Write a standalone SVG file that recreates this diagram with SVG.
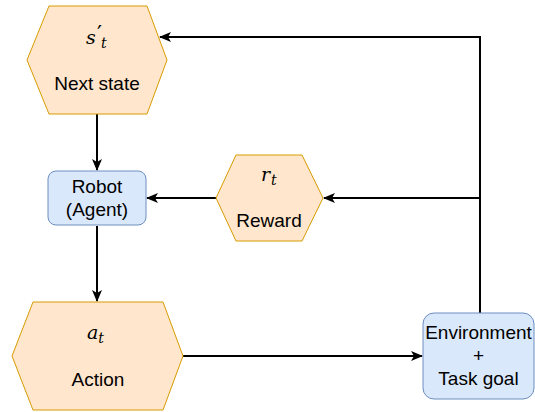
<svg xmlns="http://www.w3.org/2000/svg" width="535" height="412" viewBox="0 0 535 412">
  <defs>
    <style>
      .hex { fill: #ffe6cc; stroke: #d79b00; stroke-width: 1; }
      .box { fill: #dae8fc; stroke: #6c8ebf; stroke-width: 1; }
      .lbl { font-family: "Liberation Sans", Arial, sans-serif; font-size: 19px; fill: #000; text-anchor: middle; }
      .math { font-family: "DejaVu Serif", "Liberation Serif", serif; font-style: italic; font-size: 19px; fill: #000; }
      .sub { font-size: 14px; }
      .edge { fill: none; stroke: #000; stroke-width: 2; }
    </style>
    <marker id="arrow" viewBox="0 0 12 10" refX="11" refY="5" markerWidth="12" markerHeight="10" markerUnits="userSpaceOnUse" orient="auto">
      <path d="M0,0 L12,5 L0,10 L3,5 Z" fill="#000"/>
    </marker>
  </defs>

  <rect width="535" height="412" fill="#fff"/>

  <!-- connectors -->
  <g id="connectors">
    <path class="edge" d="M480,313 L480,37 L160,37" marker-end="url(#arrow)"/>
    <path class="edge" d="M480,198 L324,198" marker-end="url(#arrow)"/>
    <path class="edge" d="M216,198 L147,198" marker-end="url(#arrow)"/>
    <path class="edge" d="M97,114 L97,170" marker-end="url(#arrow)"/>
    <path class="edge" d="M97,226 L97,301" marker-end="url(#arrow)"/>
    <path class="edge" d="M183,356 L422,356" marker-end="url(#arrow)"/>
  </g>

  <!-- next state -->
  <g id="next-state">
    <polygon class="hex" points="49,6 147,6 167,60 147,114 49,114 27,60"/>
    <text class="math" x="86" y="44">s<tspan x="97" y="41" font-style="normal" font-size="22">′</tspan><tspan class="sub" x="101" y="48">t</tspan></text>
    <text class="lbl" x="97" y="90">Next state</text>
  </g>

  <!-- robot agent -->
  <g id="robot">
    <rect class="box" x="48" y="171" width="98" height="54" rx="8" ry="8"/>
    <text class="lbl" x="97" y="193">Robot</text>
    <text class="lbl" x="97" y="216">(Agent)</text>
  </g>

  <!-- reward -->
  <g id="reward">
    <polygon class="hex" points="236,155 302,155 323,198 302,241 236,241 216,198"/>
    <text class="math" x="261" y="181">r<tspan class="sub" dx="1" dy="4">t</tspan></text>
    <text class="lbl" x="269" y="227">Reward</text>
  </g>

  <!-- action -->
  <g id="action">
    <polygon class="hex" points="33,302 163,302 183,356 163,410 33,410 12,356"/>
    <text class="math" x="87" y="339">a<tspan class="sub" dx="0" dy="4">t</tspan></text>
    <text class="lbl" x="98" y="386">Action</text>
  </g>

  <!-- environment -->
  <g id="environment">
    <rect class="box" x="423" y="313" width="111" height="86" rx="11" ry="11"/>
    <text class="lbl" x="478.5" y="339">Environment</text>
    <text class="lbl" x="478.5" y="362">+</text>
    <text class="lbl" x="478.5" y="385">Task goal</text>
  </g>
</svg>
